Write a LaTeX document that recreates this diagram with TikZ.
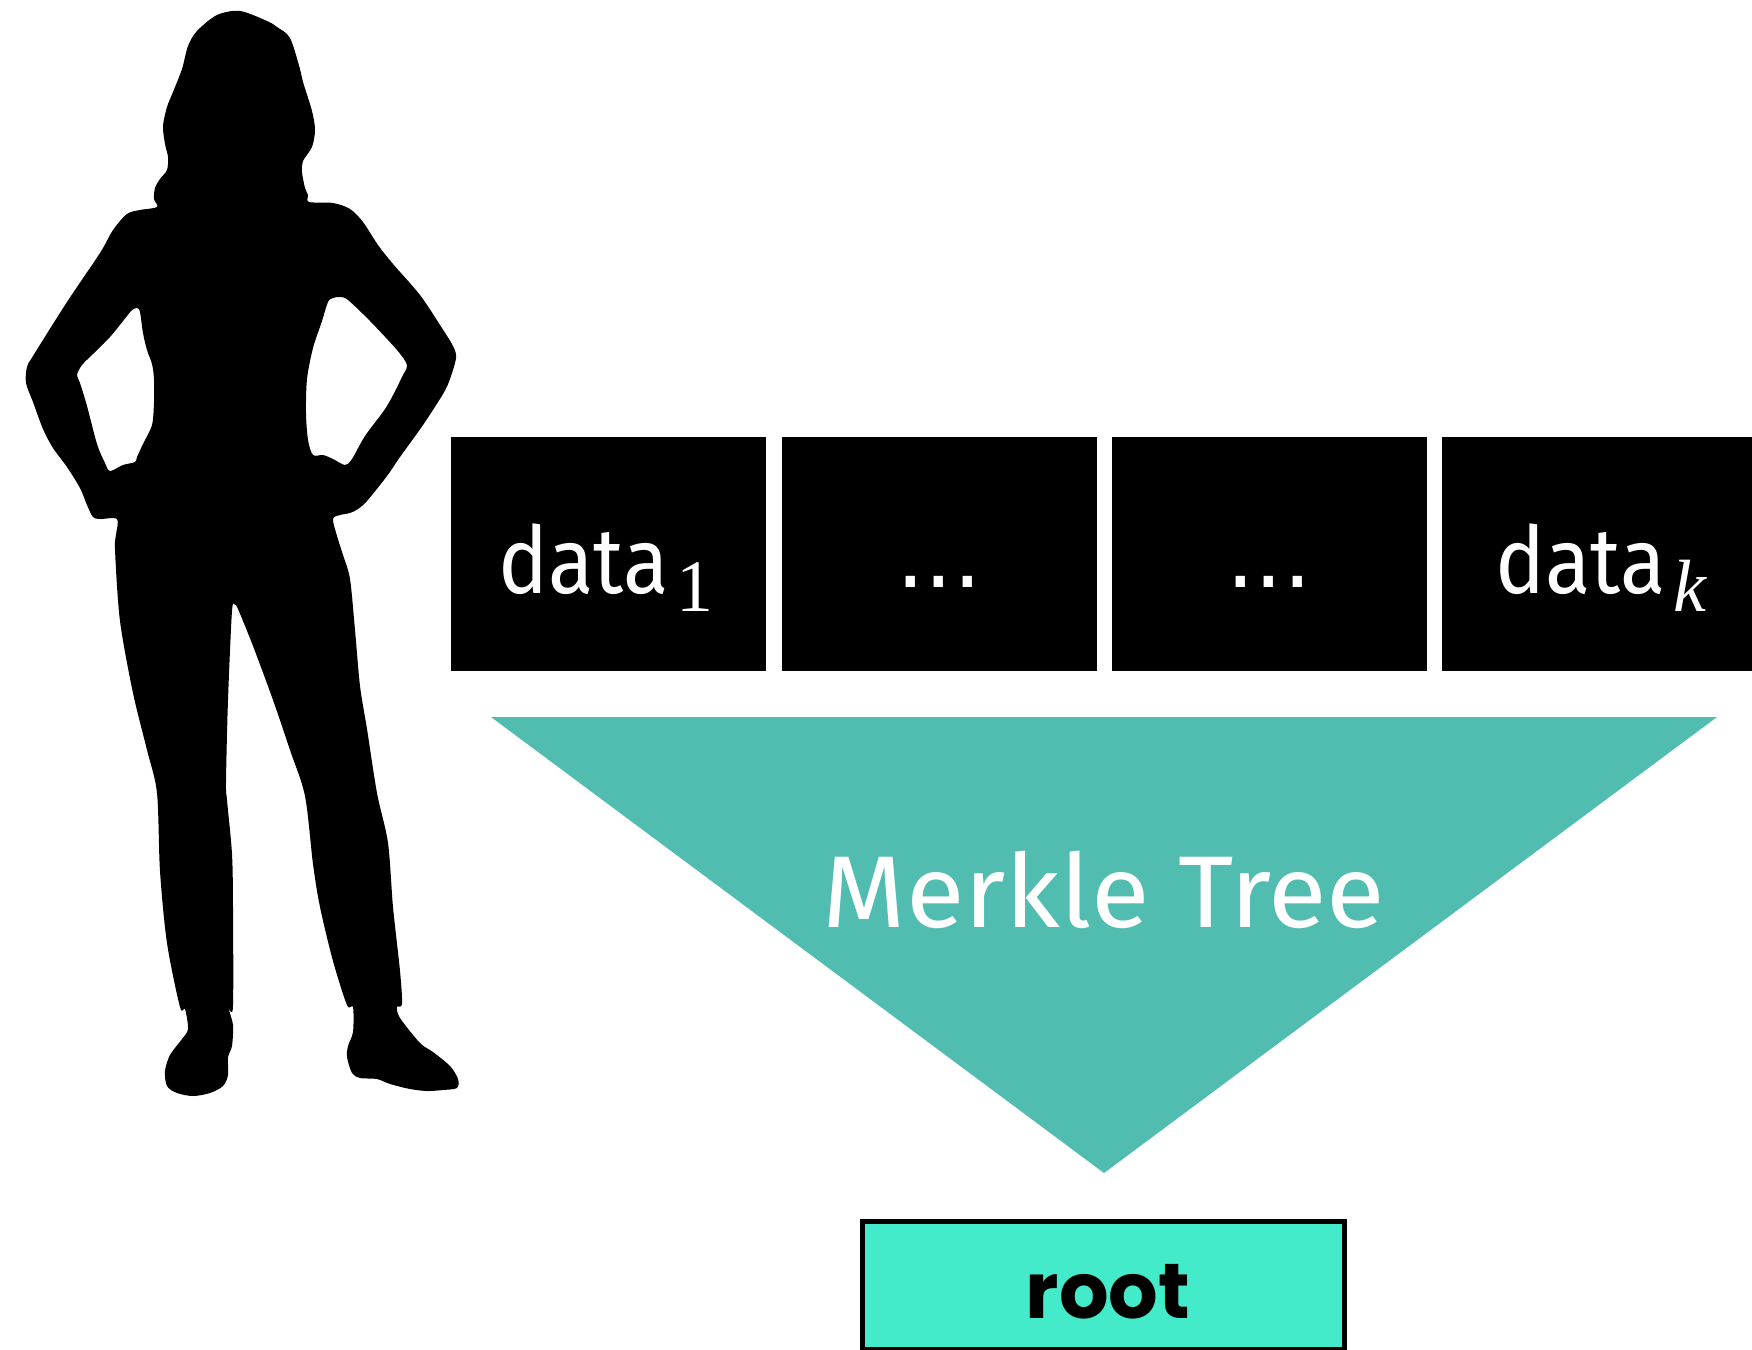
\documentclass[tikz,border=0pt]{standalone}
\usepackage{fontspec}
\newfontfamily\datafont{Fira Sans}
\newfontfamily\dotfont{DejaVu Sans}
\newfontfamily\merklefont{Fira Sans}
\newfontfamily\rootfont{Poppins}
\newfontfamily\subfont{Liberation Serif}
\definecolor{treeteal}{RGB}{81,188,176}
\definecolor{rootteal}{RGB}{67,235,203}
% lowered serif index after a data label
\newcommand\lowindex[1]{\raisebox{-18pt}{\subfont\fontsize{74}{74}\selectfont #1}}
\newcommand\datalabeltext[1]{\scalebox{0.9}[1]{data}\kern8pt\lowindex{#1}}
\tikzset{
  databox/.style={fill=black, draw=none, minimum width=315pt, minimum height=234pt, inner sep=0pt},
  datalabel/.style={text=white, inner sep=0pt, anchor=base, font=\datafont\fontsize{93}{93}\selectfont},
  dotlabel/.style={text=white, inner sep=0pt, anchor=base, font=\dotfont\fontsize{90}{90}\selectfont},
  rootbox/.style={fill=rootteal, draw=black, line width=5pt, minimum width=482pt, minimum height=128pt, inner sep=0pt},
}
\begin{document}
\begin{tikzpicture}[x=1pt,y=-1pt]
\useasboundingbox (0,0) rectangle (1752,1349);

% person silhouette, arms akimbo
\fill[black, even odd rule]
  plot[smooth cycle, tension=0.5] coordinates {
    (240,11) (267,21) (277,27) (290,38) (300,69) (303,82) (312,111) (315,130)
    (312,147) (303,161) (302,172) (305,188) (308,195) (309,202)
    (333,203) (350,209) (363,222) (378,245) (393,264) (420,295) (440,325)
    (453,346) (456,358) (450,379) (443,394) (423,425) (400,457) (387,476)
    (367,501) (358,509) (350,513) (340,515) (333,519)
    (337,536) (343,555) (350,579) (355,630) (360,686) (367,729) (377,793)
    (388,843) (393,907) (400,971) (402,1004) (397,1007) (400,1018) (420,1043)
    (433,1052) (450,1066) (458,1079) (457,1088) (443,1090) (427,1091)
    (410,1089) (390,1084) (377,1079) (360,1078) (352,1073) (347,1057)
    (348,1046) (353,1032) (353,1007) (347,1005)
    (333,961) (320,907) (313,864) (305,796) (290,750) (273,700) (253,646)
    (238,609) (235,605) (232,611) (228,700) (226,782) (227,800) (232,854)
    (233,907) (233,1006) (229,1009) (233,1025) (232,1046) (228,1057)
    (228,1075) (223,1086) (210,1093) (193,1096) (177,1093) (167,1086)
    (165,1071) (170,1055) (182,1039) (188,1029) (185,1009) (180,1007)
    (167,943) (160,871) (157,793) (147,750) (133,693) (120,621) (115,550)
    (116,535) (117,519)
    (100,519) (93,517) (87,505) (80,488) (67,467) (53,448) (43,429)
    (33,402) (26,383) (27,367) (33,356) (67,302) (100,253) (113,230)
    (127,214) (140,210) (157,207)
    (154,199) (155,188) (160,179) (167,170) (168,157) (165,144) (163,126)
    (167,107) (173,92) (182,69) (188,46) (197,31) (217,15)
  }
  plot[smooth cycle, tension=0.5] coordinates {
    (137,308) (140,312) (143,333) (147,350) (152,364) (154,379) (154,402)
    (152,425) (143,444) (137,457) (135,462) (123,465) (110,471) (105,463)
    (97,444) (87,406) (80,383) (77,375) (82,365) (93,354) (110,337)
    (127,316) (132,310)
  }
  plot[smooth cycle, tension=0.5] coordinates {
    (340,297) (348,300) (370,321) (397,350) (407,365) (403,375) (387,406)
    (365,436) (352,459) (345,465) (333,459) (323,455) (313,455) (308,440)
    (306,413) (307,379) (313,348) (322,321) (328,302) (333,298)
  };

% row of data blocks
\node[databox] (b1) at (608.5,554) {};
\node[databox] (b2) at (939.5,554) {};
\node[databox] (b3) at (1269.5,554) {};
\node[databox] (b4) at (1599.5,554) {};
\node[datalabel] (l1) at (606,593) {\datalabeltext{1}};
\node[dotlabel] (l2) at (939,587) {...};
\node[dotlabel] (l3) at (1269,587) {...};
\node[datalabel] (l4) at (1601,593) {\datalabeltext{\itshape k}};

% the tree funnel
\fill[treeteal] (491,717) -- (1717,717) -- (1104,1173) -- cycle;
\node[text=white, inner sep=0pt, anchor=base, font=\merklefont\fontsize{102}{102}\selectfont]
  (mt) at (1104,927) {\scalebox{1.05}[1]{Merkle Tree}};

% resulting root hash
\node[rootbox] (rb) at (1103.5,1285.5) {};
\node[inner sep=0pt, anchor=base, font=\rootfont\bfseries\fontsize{78}{78}\selectfont]
  (rt) at (1108,1318) {root};
\end{tikzpicture}
\end{document}
